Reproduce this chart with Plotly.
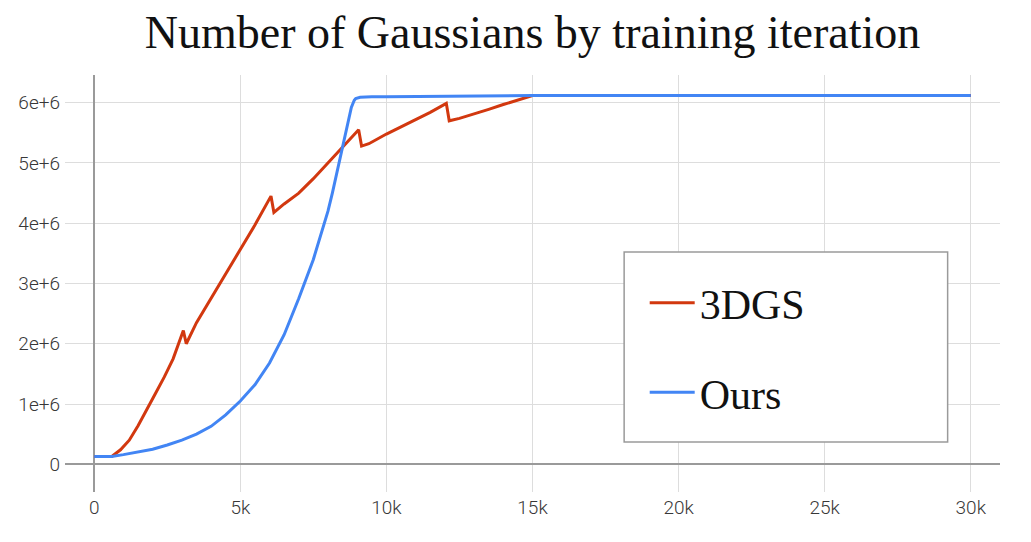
import plotly.graph_objects as go

# ---- data (iterations, number of Gaussians) ----
ours_iter = [0, 600, 1000, 1500, 2000, 2500, 3000, 3500, 4000, 4500, 5000, 5500, 6000,
             6500, 7000, 7500, 8000, 8150, 8300, 8450, 8600, 8700, 8800, 8900, 8950,
             9100, 9500, 10000, 12000, 15000, 20000, 25000, 30000]
ours_count = [0.13e6, 0.13e6, 0.16e6, 0.20e6, 0.25e6, 0.32e6, 0.40e6, 0.50e6, 0.63e6,
              0.82e6, 1.05e6, 1.32e6, 1.68e6, 2.15e6, 2.75e6, 3.40e6, 4.20e6, 4.50e6,
              4.82e6, 5.15e6, 5.48e6, 5.72e6, 5.92e6, 6.04e6, 6.07e6, 6.09e6, 6.10e6,
              6.10e6, 6.11e6, 6.12e6, 6.12e6, 6.12e6, 6.12e6]

gs_iter = [0, 600, 900, 1200, 1500, 1800, 2100, 2400, 2700, 3050, 3150, 3500, 4000, 4500,
           5000, 5500, 6050, 6150, 6500, 7000, 7500, 8000, 8500, 9050, 9150, 9400, 10000,
           10500, 11000, 11500, 12050, 12150, 12500, 13000, 13500, 14000, 14500, 15000,
           20000, 25000, 30000]
gs_count = [0.13e6, 0.13e6, 0.24e6, 0.40e6, 0.64e6, 0.90e6, 1.18e6, 1.45e6, 1.75e6,
            2.22e6, 2.00e6, 2.35e6, 2.75e6, 3.17e6, 3.57e6, 3.97e6, 4.45e6, 4.18e6,
            4.32e6, 4.50e6, 4.74e6, 5.00e6, 5.25e6, 5.55e6, 5.28e6, 5.32e6, 5.48e6,
            5.60e6, 5.72e6, 5.84e6, 5.99e6, 5.70e6, 5.74e6, 5.81e6, 5.89e6, 5.97e6,
            6.04e6, 6.12e6, 6.12e6, 6.12e6, 6.12e6]

series_names = ["3DGS", "Ours"]
x_tickvals = [0, 5000, 10000, 15000, 20000, 25000, 30000]
x_ticktext = ["0", "5k", "10k", "15k", "20k", "25k", "30k"]
y_tickvals = [0, 1e6, 2e6, 3e6, 4e6, 5e6, 6e6]
y_ticktext = ["0", "1e+6", "2e+6", "3e+6", "4e+6", "5e+6", "6e+6"]
title_text = "Number of Gaussians by training iteration"

RED = "#d2380f"
BLUE = "#4285f4"

fig = go.Figure()
fig.add_trace(go.Scatter(x=gs_iter, y=gs_count, mode="lines", name=series_names[0],
                         legendgroup="a", line=dict(color=RED, width=3)))
fig.add_trace(go.Scatter(x=ours_iter, y=ours_count, mode="lines", name=series_names[1],
                         legendgroup="b", line=dict(color=BLUE, width=3)))

axis_font = dict(family="Roboto, sans-serif", size=19, color="#383838", weight=300)

fig.update_layout(
    width=1023, height=534,
    margin=dict(l=57, r=31, t=67, b=50, autoexpand=False),
    paper_bgcolor="white", plot_bgcolor="white",
    title=dict(text=title_text, x=0.5, xref="paper", xanchor="center",
               y=0.985, yanchor="top", automargin=False,
               font=dict(family="Liberation Serif, serif", size=46, color="#111")),
    xaxis=dict(range=[-1000, 31000], tickvals=x_tickvals, ticktext=x_ticktext,
               showgrid=True, gridcolor="#dddddd", gridwidth=1, automargin=False,
               zeroline=True, zerolinecolor="#9a9a9a", zerolinewidth=2,
               showline=False, tickfont=axis_font, ticklabelstandoff=2),
    yaxis=dict(range=[-0.46e6, 6.46e6], tickvals=y_tickvals, ticktext=y_ticktext,
               showgrid=True, gridcolor="#dddddd", gridwidth=1, automargin=False,
               zeroline=True, zerolinecolor="#9a9a9a", zerolinewidth=2,
               showline=False, tickfont=axis_font, ticklabelstandoff=4),
    legend=dict(x=0.62, y=0.535, xanchor="left", yanchor="top",
                bgcolor="rgba(0,0,0,0)", borderwidth=0, itemwidth=45,
                font=dict(family="Liberation Serif, serif", size=42, color="#111"),
                tracegroupgap=32, traceorder="grouped"),
    shapes=[dict(type="rect", xref="paper", yref="paper",
                 x0=0.598, x1=0.944, y0=0.12, y1=0.5755,
                 line=dict(color="#9a9a9a", width=1.5), fillcolor="white", layer="above")],
    showlegend=True,
)

fig.write_html("out.html")
